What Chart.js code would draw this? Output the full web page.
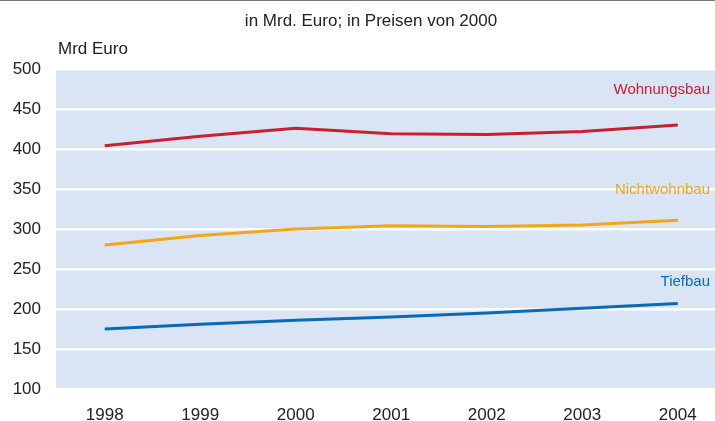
<!DOCTYPE html>
<html><head><meta charset="utf-8">
<script src="https://cdn.jsdelivr.net/npm/chart.js@4"></script>
<style>html,body{margin:0;padding:0;background:#fff;}#w{width:715px;height:421px;}</style>
</head><body><div id="w"><canvas id="c"></canvas></div>
<script>
const years = [1998, 1999, 2000, 2001, 2002, 2003, 2004];
const wohnungsbau = [404, 416, 426, 419, 418, 422, 430];
const nichtwohnbau = [280, 292, 300, 304, 303, 305, 311];
const tiefbau = [175, 181, 186, 190, 195, 201, 207];
const yTicks = [100, 150, 200, 250, 300, 350, 400, 450, 500];
const title = 'in Mrd. Euro; in Preisen von 2000';
const unitLabel = 'Mrd Euro';
const seriesNames = ['Wohnungsbau', 'Nichtwohnbau', 'Tiefbau'];
const labelValues = [474, 349, 234];
const colors = ['#c8202f', '#f5a51c', '#0a6ab6'];

const FONT = '"Liberation Sans", Arial, sans-serif';
const pts = arr => arr.map((v, i) => ({x: years[i], y: v}));

const deco = {
  id: 'deco',
  beforeDraw(chart) {
    const {ctx, chartArea: a} = chart;
    ctx.save();
    ctx.fillStyle = '#d9e4f4';
    ctx.fillRect(a.left, a.top, a.right - a.left, a.bottom - a.top);
    ctx.strokeStyle = '#777';
    ctx.lineWidth = 1;
    ctx.beginPath(); ctx.moveTo(0, 0.5); ctx.lineTo(chart.width, 0.5); ctx.stroke();
    ctx.restore();
  },
  afterDraw(chart) {
    const {ctx} = chart;
    const ys = chart.scales.y;
    ctx.save();
    ctx.fillStyle = '#222';
    ctx.font = '17px ' + FONT;
    ctx.textAlign = 'center';
    ctx.textBaseline = 'middle';
    ctx.fillText(title, 371, 21);
    ctx.textAlign = 'left';
    ctx.fillText(unitLabel, 58, 49);
    ctx.font = '15px ' + FONT;
    ctx.textAlign = 'right';
    seriesNames.forEach((n, i) => {
      ctx.fillStyle = colors[i];
      ctx.fillText(n, 710, ys.getPixelForValue(labelValues[i]));
    });
    ctx.restore();
  }
};

new Chart(document.getElementById('c'), {
  type: 'line',
  data: {
    datasets: [
      {label: seriesNames[0], data: pts(wohnungsbau), borderColor: colors[0]},
      {label: seriesNames[1], data: pts(nichtwohnbau), borderColor: colors[1]},
      {label: seriesNames[2], data: pts(tiefbau), borderColor: colors[2]}
    ].map(d => Object.assign(d, {borderWidth: 3, pointRadius: 0, tension: 0, fill: false}))
  },
  options: {
    responsive: true,
    maintainAspectRatio: false,
    animation: false,
    layout: {padding: {top: 69, right: 0, left: 0, bottom: 0}},
    plugins: {legend: {display: false}, tooltip: {enabled: false}},
    scales: {
      x: {
        type: 'linear', min: 1997.49, max: 2004.39,
        afterBuildTicks: s => { s.ticks = years.map(v => ({value: v})); },
        afterFit: s => { s.height = 32; },
        grid: {display: false, drawTicks: false},
        border: {display: false},
        ticks: {padding: 16, color: '#222', font: {family: FONT, size: 17}, callback: v => String(v), maxRotation: 0, autoSkip: false}
      },
      y: {
        min: 100, max: 500,
        afterBuildTicks: s => { s.ticks = yTicks.map(v => ({value: v})); },
        afterFit: s => { s.width = 56; },
        grid: {color: '#ffffff', lineWidth: 2.5, drawTicks: false},
        border: {display: false},
        ticks: {padding: 15, color: '#222', font: {family: FONT, size: 17}}
      }
    }
  },
  plugins: [deco]
});
</script>
</body></html>
